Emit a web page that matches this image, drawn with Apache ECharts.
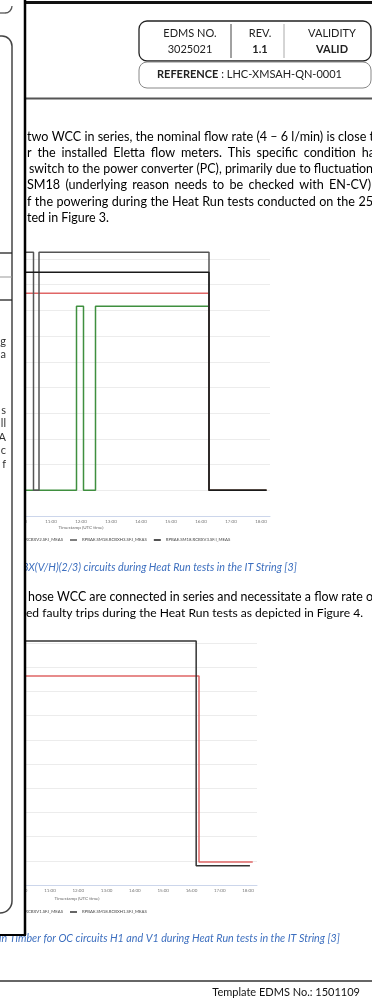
<!DOCTYPE html>
<html><head><meta charset="utf-8">
<script src="https://cdn.jsdelivr.net/npm/echarts@6/dist/echarts.min.js"></script>
<style>html,body{margin:0;padding:0;background:#fff}#c{width:372px;height:1004px}</style>
</head><body><div id="c"></div>
<script>
// ---------------- DATA ----------------
const DAY = '2023-05-25 ';

// Figure 3 (RCBX circuits)
const fig3Names = ['RPBAE.SM18.RCBXH2.SF.I_MEAS','RPBAE.SM18.RCBXV2.SF.I_MEAS','RPBAE.SM18.RCBXH3.SF.I_MEAS','RPBAE.SM18.RCBXV3.SF.I_MEAS'];
const fig3H2Times = ['10:00','11:51','12:05','12:29','16:16','18:11'];
const fig3H2Values = [0, 71.6, 0, 71.6, 0, 0];
const fig3V2Times = ['10:00','16:16','18:11'];
const fig3V2Values = [76.7, 0, 0];
const fig3H3Times = ['10:00','10:25','10:36','16:16','18:11'];
const fig3H3Values = [92.6, 0, 92.6, 0, 0];
const fig3V3Times = ['10:00','16:16','18:11'];
const fig3V3Values = [84.8, 0, 0];

// Figure 4 (OC circuits H1 / V1)
const fig4Names = ['RPBAE.SM18.RCBXV1.SF.I_MEAS','RPBAE.SM18.RCBXH1.SF.I_MEAS'];
const fig4V1Times = ['10:00','16:16','18:10'];
const fig4V1Values = [7.64, -0.05, -0.05];
const fig4H1Times = ['10:00','16:10','18:04'];
const fig4H1Values = [9.08, -0.2, -0.2];

// Text
const para1 = [
  'two WCC in series, the nominal flow rate (4 \u2013 6 l/min) is close t',
  'r the installed Eletta flow meters. This specific condition ha',
  'switch to the power converter (PC), primarily due to fluctuation',
  'SM18 (underlying reason needs to be checked with EN-CV)',
  'f the powering during the Heat Run tests conducted on the 25',
  'ted in Figure 3.'
];
const para2 = [
  'hose WCC are connected in series and necessitate a flow rate o',
  'ed faulty trips during the Heat Run tests as depicted in Figure 4.'
];
const caption3 = 'BX(V/H)(2/3) circuits during Heat Run tests in the IT String [3]';
const caption4 = 'in Timber for OC circuits H1 and V1 during Heat Run tests in the IT String [3]';
const axisTitle = 'Timestamp (UTC time)';
const leftFragments = ['g','a','s','ll','A','c','f'];

// ---------------- LAYOUT ----------------
const FONT = 'Lato';
const mctx = document.createElement('canvas').getContext('2d');
function measure(t, font){ mctx.font = font; return mctx.measureText(t).width; }
const G = [];
function justify(text, x, y, endX, base, color){
  let size = base;
  const natural = measure(text, base + 'px ' + FONT);
  if (natural > endX - x) size = base * (endX - x) / natural;
  const font = size.toFixed(2) + 'px ' + FONT;
  const words = text.split(' ');
  const ws = words.map(w => measure(w, font));
  const total = ws.reduce((a,b)=>a+b,0);
  const gap = words.length > 1 ? (endX - x - total)/(words.length-1) : 0;
  let cx = x;
  words.forEach((w,i)=>{
    G.push({type:'text', x:cx, y:y, z:50, style:{text:w, font:font, fill:color, verticalAlign:'middle', align:'left'}});
    cx += ws[i] + gap;
  });
}
function fit(text, x, y, endX, base, color, italic){
  const f0 = (italic ? 'italic ' : '') + base + 'px ' + FONT;
  const size = base * (endX - x) / measure(text, f0);
  const font = (italic ? 'italic ' : '') + size.toFixed(2) + 'px ' + FONT;
  G.push({type:'text', x:x, y:y, z:50, style:{text:text, font:font, fill:color, verticalAlign:'middle', align:'left'}});
}
function line(x1,y1,x2,y2,color,w,z){
  G.push({type:'line', z:z||60, shape:{x1,y1,x2,y2}, style:{stroke:color, lineWidth:w}});
}
function arc(cx,cy,r,a0,a1,color,w,z){
  G.push({type:'arc', z:z||60, shape:{cx,cy,r,startAngle:a0,endAngle:a1,clockwise:true}, style:{stroke:color, lineWidth:w, fill:'none'}});
}

// paragraph 1
const p1Y = [137, 153, 169, 185, 202, 218];
const p1X = [27, 27, 29, 27, 27, 27];
const p1End = [374, 375, 373, 371, 373, 109];
para1.forEach((t,i)=>justify(t, p1X[i], p1Y[i], p1End[i], 12.6, '#000'));
// paragraph 2
justify(para2[0], 28, 597, 373, 12.6, '#000');
justify(para2[1], 26, 613, 363, 12.6, '#000');
// captions
fit(caption3, 22, 568, 297, 11, '#3d6fbf', true);
fit(caption4, -1, 939, 340, 11, '#3d6fbf', true);
// axis titles
G.push({type:'text', x:81, y:528, z:50, style:{text:axisTitle, font:'4.6px '+FONT, fill:'#666', align:'center', verticalAlign:'middle'}});
G.push({type:'text', x:77, y:899, z:50, style:{text:axisTitle, font:'4.6px '+FONT, fill:'#666', align:'center', verticalAlign:'middle'}});

// header box
G.push({type:'rect', z:60, shape:{x:139, y:21, width:232, height:40, r:8}, style:{fill:'none', stroke:'#222', lineWidth:1.3}});
G.push({type:'rect', z:60, shape:{x:139, y:62, width:232, height:26, r:8}, style:{fill:'none', stroke:'#888', lineWidth:1}});
line(231, 24, 231, 58, '#444', 1);
line(284, 24, 284, 58, '#aaa', 1);
const hdr = [[190,'EDMS NO.','3025021',false],[260,'REV.','1.1',true],[332,'VALIDITY','VALID',true]];
hdr.forEach(h=>{
  G.push({type:'text', x:h[0], y:33, z:60, style:{text:h[1], font:'11px '+FONT, fill:'#222', align:'center', verticalAlign:'middle'}});
  G.push({type:'text', x:h[0], y:49, z:60, style:{text:h[2], font:(h[3]?'bold ':'')+'11px '+FONT, fill:'#222', align:'center', verticalAlign:'middle'}});
});
G.push({type:'text', x:157, y:74, z:60, style:{text:'{b|REFERENCE} : LHC-XMSAH-QN-0001', font:'11px '+FONT, fill:'#222', verticalAlign:'middle',
  rich:{b:{fontWeight:'bold', fontSize:11, fontFamily:FONT, fill:'#222'}}}});
// page lines
line(25, 2.5, 372, 2.5, '#111', 3);
line(25, 98.5, 372, 98.5, '#555', 2);
line(0, 981, 372, 981, '#666', 2);
G.push({type:'text', x:360, y:992, z:60, style:{text:'Template EDMS No.: 1501109', font:'11px '+FONT, fill:'#111', align:'right', verticalAlign:'middle'}});

// left panel (covers the cut-off part of the page)
G.push({type:'rect', z:100, shape:{x:0, y:0, width:25, height:935}, style:{fill:'#fff'}});
line(0, 13, 5, 13, '#555', 1.3, 101);
arc(5, 6, 7, 0, Math.PI/2, '#555', 1.3, 101);
line(0, 36, 2, 36, '#444', 1.5, 101);
arc(2, 46, 10, -Math.PI/2, 0, '#444', 1.5, 101);
line(12, 46, 12, 901, '#444', 1.5, 101);
arc(0, 901, 12, 0, Math.PI/2, '#444', 1.5, 101);
line(0, 253, 12, 253, '#222', 1.3, 101);
line(0, 277, 12, 277, '#999', 1, 101);
line(0, 300, 12, 300, '#222', 1.3, 101);
const fragY = [341, 354, 410, 423, 437, 450, 464];
leftFragments.forEach((t,i)=>G.push({type:'text', x:6, y:fragY[i], z:101, style:{text:t, font:'11px '+FONT, fill:'#333', align:'right', verticalAlign:'middle'}}));
line(25, 0, 25, 935, '#000', 2.5, 102);
line(0, 935, 26, 935, '#000', 2, 102);

// ---------------- CHART ----------------
const pts = (ts, vs) => ts.map((t,i)=>[DAY+t, vs[i]]);
const legendFontSize = 4.3;
const lf = legendFontSize + 'px ' + FONT;
const itemW = 7, itemGap = 7;
const itemWidths3 = fig3Names.map(n => itemW + 5 + measure(n, lf));
const leg3Left = 70 - itemWidths3[0] - itemWidths3[1] - 2*itemGap;
const itemWidths4 = fig4Names.map(n => itemW + 5 + measure(n, lf));
const leg4Left = 70 - itemWidths4[0] - itemGap;

function xAx(grid, max){
  return {gridIndex:grid, type:'time', min:DAY+'10:00', max:DAY+max, minInterval:3600000, maxInterval:3600000,
    axisLine:{onZero:false, lineStyle:{color:'#ccd6eb', width:1}}, axisTick:{show:false}, splitLine:{show:false},
    axisLabel:{formatter:'{HH}:{mm}', fontSize:4.5, color:'#777', margin:3, fontFamily:FONT, showMinLabel:true, showMaxLabel:false}};
}
function yAx(grid, min, max, interval){
  return {gridIndex:grid, type:'value', min, max, interval, axisLabel:{show:false}, axisLine:{show:false}, axisTick:{show:false},
    splitLine:{lineStyle:{color:'#ececec', width:1}}};
}
function ser(name, data, color, xi, width){
  return {name, type:'line', xAxisIndex:xi, yAxisIndex:xi, data, step:'end', showSymbol:false, symbol:'none', clip:false,
    lineStyle:{color, width:width||1.5}, itemStyle:{color}, z:3};
}
const option = {
  animation:false,
  backgroundColor:'#fff',
  textStyle:{fontFamily:FONT},
  grid:[{left:21, right:102, top:259, height:257, containLabel:false},
        {left:21.7, right:115, top:643, height:242, containLabel:false}],
  xAxis:[xAx(0,'18:18'), xAx(1,'18:19')],
  yAxis:[yAx(0,-10,90,10), yAx(1,-1,9,1)],
  legend:[
    {data:fig3Names, left:leg3Left, top:538, width:800, orient:'horizontal', icon:'rect', itemWidth:itemW, itemHeight:1.5, itemGap:itemGap, padding:0,
     selectedMode:false, textStyle:{fontSize:legendFontSize, color:'#444', fontFamily:FONT}},
    {data:fig4Names, left:leg4Left, top:910, width:800, orient:'horizontal', icon:'rect', itemWidth:itemW, itemHeight:1.5, itemGap:itemGap, padding:0,
     selectedMode:false, textStyle:{fontSize:legendFontSize, color:'#444', fontFamily:FONT}}
  ],
  series:[
    ser(fig3Names[0], pts(fig3H2Times, fig3H2Values), '#3f8f3f', 0),
    ser(fig3Names[1], pts(fig3V2Times, fig3V2Values), '#e06666', 0),
    ser(fig3Names[2], pts(fig3H3Times, fig3H3Values), '#555555', 0),
    ser(fig3Names[3], pts(fig3V3Times, fig3V3Values), '#1a1a1a', 0),
    ser(fig4Names[0], pts(fig4V1Times, fig4V1Values), '#e06666', 1),
    ser(fig4Names[1], pts(fig4H1Times, fig4H1Values), '#333333', 1)
  ],
  graphic:G
};
const chart = echarts.init(document.getElementById('c'), null, {renderer:'canvas'});
chart.setOption(option);
</script>
</body></html>
